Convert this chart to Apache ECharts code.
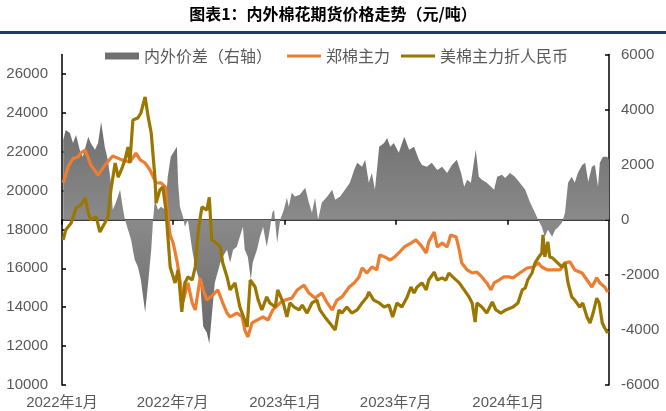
<!DOCTYPE html>
<html><head><meta charset="utf-8">
<script src="https://cdn.jsdelivr.net/npm/echarts@6/dist/echarts.min.js"></script>
<style>html,body{margin:0;padding:0;background:#fff}#c{width:666px;height:411px}</style>
</head><body><div id="c"></div>
<script>
const titleText = '图表1：内外棉花期货价格走势（元/吨）';
const seriesNames = ['内外价差（右轴）', '郑棉主力', '美棉主力折人民币'];
const xStart = '2022-01-01';
const xEnd = '2024-06-14';
const leftMin = 10000, leftMax = 27000, leftStep = 2000;
const rightMin = -6000, rightMax = 6000, rightStep = 2000;

const spreadDates = ['2022-01-03','2022-01-07','2022-01-14','2022-01-19','2022-01-24','2022-01-30','2022-02-04','2022-02-13','2022-02-17','2022-02-24',
'2022-03-01','2022-03-06','2022-03-12','2022-03-17','2022-03-22','2022-03-25','2022-03-30','2022-04-06','2022-04-11','2022-04-14',
'2022-04-19','2022-04-24','2022-04-30','2022-05-05','2022-05-10','2022-05-15','2022-05-17','2022-05-22','2022-05-27','2022-05-30',
'2022-06-02','2022-06-07','2022-06-12','2022-06-19','2022-06-23','2022-06-28','2022-07-02','2022-07-08','2022-07-10','2022-07-13',
'2022-07-18','2022-07-21','2022-07-26','2022-08-02','2022-08-07','2022-08-15','2022-08-20','2022-08-26','2022-08-30','2022-09-03',
'2022-09-08','2022-09-17','2022-09-21','2022-09-28','2022-10-03','2022-10-08','2022-10-14','2022-10-19','2022-10-24','2022-10-27',
'2022-11-01','2022-11-06','2022-11-09','2022-11-16','2022-11-21','2022-11-26','2022-12-02','2022-12-07','2022-12-11','2022-12-14',
'2022-12-19','2022-12-24','2022-12-30','2023-01-04','2023-01-07','2023-01-12','2023-01-17','2023-01-25','2023-02-03','2023-02-09',
'2023-02-14','2023-02-19','2023-02-24','2023-03-02','2023-03-11','2023-03-19','2023-03-24','2023-04-01','2023-04-09','2023-04-17',
'2023-04-24','2023-04-29','2023-05-07','2023-05-12','2023-05-18','2023-05-23','2023-05-28','2023-06-04','2023-06-12','2023-06-17',
'2023-06-22','2023-06-28','2023-07-06','2023-07-15','2023-07-23','2023-07-31','2023-08-08','2023-08-13','2023-08-21','2023-08-29',
'2023-09-07','2023-09-15','2023-09-23','2023-10-01','2023-10-09','2023-10-16','2023-10-21','2023-10-26','2023-11-01','2023-11-09',
'2023-11-14','2023-11-19','2023-11-27','2023-12-04','2023-12-09','2023-12-14','2023-12-22','2023-12-27','2024-01-04','2024-01-12',
'2024-01-20','2024-01-29','2024-02-06','2024-02-14','2024-02-19','2024-02-25','2024-03-01','2024-03-06','2024-03-13','2024-03-18',
'2024-03-22','2024-03-29','2024-04-03','2024-04-08','2024-04-14','2024-04-19','2024-04-24','2024-05-01','2024-05-06','2024-05-11',
'2024-05-17','2024-05-22','2024-05-27','2024-05-30','2024-06-04','2024-06-11','2024-06-14'];
const spreadValues = [2900,3260,3150,2790,3080,2540,2290,3010,2790,2540,
2790,3550,2650,2180,1340,360,620,1090,360,0,
-360,-730,-1450,-1700,-2180,-3010,-3370,-2280,-1090,0,
730,360,470,360,1560,2290,2430,2650,1340,470,
110,-250,0,-1090,-1700,-2290,-3880,-4100,-4500,-3510,
-2290,-1560,-1340,-1090,-1560,-1090,-980,-620,-250,-1090,
-1340,-2180,-1560,-1090,-620,-250,-980,-360,250,360,
-840,0,360,800,470,980,840,910,1160,620,
250,800,0,620,840,1090,730,840,1090,1340,
1810,2070,1920,2180,1340,1700,1090,2650,2790,2970,
2650,2790,2430,3010,2540,2650,2180,1990,1920,2070,
1810,1920,1700,1990,2180,1700,1200,1450,1340,2540,
1560,1450,1340,1200,1090,1560,1630,1520,1700,1560,
1340,1090,620,250,0,-250,-620,-360,-620,-360,
-290,-110,250,1340,1560,1340,1700,1990,2070,1380,
1920,1990,1200,2070,2290,2290,2180];

const zceDates = ['2022-01-03','2022-01-11','2022-01-19','2022-01-27','2022-02-01','2022-02-08','2022-02-17','2022-03-01','2022-03-12','2022-03-25',
'2022-04-09','2022-04-22','2022-05-02','2022-05-09','2022-05-17','2022-05-25','2022-06-04','2022-06-12','2022-06-19','2022-06-23',
'2022-06-27','2022-07-02','2022-07-08','2022-07-13','2022-07-18','2022-07-26','2022-08-02','2022-08-07','2022-08-15','2022-08-20',
'2022-08-26','2022-09-05','2022-09-13','2022-09-21','2022-09-28','2022-10-03','2022-10-14','2022-10-23','2022-10-27','2022-11-01',
'2022-11-08','2022-11-16','2022-11-26','2022-12-04','2022-12-12','2022-12-24','2023-01-01','2023-01-12','2023-01-21','2023-02-01',
'2023-02-09','2023-02-19','2023-03-02','2023-03-11','2023-03-19','2023-03-27','2023-04-04','2023-04-16','2023-04-24','2023-05-02',
'2023-05-07','2023-05-15','2023-05-23','2023-05-31','2023-06-05','2023-06-13','2023-06-22','2023-06-30','2023-07-06','2023-07-15',
'2023-07-26','2023-08-03','2023-08-11','2023-08-20','2023-08-24','2023-09-02','2023-09-07','2023-09-15','2023-09-23','2023-09-29',
'2023-10-08','2023-10-13','2023-10-17','2023-10-26','2023-11-03','2023-11-11','2023-11-19','2023-11-27','2023-12-04','2023-12-09',
'2023-12-17','2023-12-25','2024-01-02','2024-01-09','2024-01-20','2024-02-01','2024-02-11','2024-02-19','2024-02-25','2024-03-05',
'2024-03-14','2024-03-26','2024-04-03','2024-04-11','2024-04-19','2024-05-01','2024-05-09','2024-05-17','2024-05-25','2024-05-30',
'2024-06-07','2024-06-12'];
const zceValues = [20400,21230,21650,21730,21930,22090,21320,20800,21300,21780,
21580,21470,21930,21580,21420,21060,20390,20400,20190,18640,
17700,17300,16400,15400,14300,15250,14220,13860,15500,14890,
14370,14630,14890,14220,13700,13500,13700,13500,12830,12470,
13190,13340,13500,13340,13860,14220,14370,14470,14890,15140,
14730,14470,14730,14220,13860,14370,14530,15040,15250,15560,
16020,15760,16070,15920,16690,16590,16430,16600,16790,17100,
17300,17460,17200,16790,17360,17870,17100,17300,17100,17720,
17610,16950,16280,15920,15760,15810,15560,15250,14890,15250,
15400,15560,15560,15510,15760,16020,16070,16280,16070,15920,
15920,15920,16280,16330,15920,15760,15400,15040,15510,15250,
15040,14780];

const iceDates = ['2022-01-03','2022-01-07','2022-01-16','2022-01-24','2022-02-01','2022-02-08','2022-02-13','2022-02-17','2022-02-26','2022-03-04',
'2022-03-12','2022-03-17','2022-03-22','2022-03-29','2022-04-03','2022-04-08','2022-04-14','2022-04-19','2022-04-22','2022-04-27',
'2022-05-05','2022-05-10','2022-05-17','2022-05-22','2022-05-27','2022-06-02','2022-06-04','2022-06-10','2022-06-15','2022-06-20',
'2022-06-27','2022-06-30','2022-07-05','2022-07-10','2022-07-16','2022-07-21','2022-07-26','2022-08-02','2022-08-07','2022-08-12',
'2022-08-18','2022-08-26','2022-08-30','2022-09-03','2022-09-08','2022-09-17','2022-09-21','2022-09-28','2022-10-03','2022-10-11',
'2022-10-19','2022-10-27','2022-10-31','2022-11-05','2022-11-13','2022-11-18','2022-11-24','2022-12-02','2022-12-07','2022-12-16',
'2022-12-20','2022-12-29','2023-01-04','2023-01-09','2023-01-16','2023-01-24','2023-01-29','2023-02-06','2023-02-14','2023-02-22',
'2023-02-27','2023-03-07','2023-03-15','2023-03-24','2023-03-30','2023-04-04','2023-04-12','2023-04-20','2023-04-29','2023-05-07',
'2023-05-15','2023-05-18','2023-05-26','2023-06-04','2023-06-12','2023-06-20','2023-06-26','2023-07-03','2023-07-11','2023-07-19',
'2023-07-26','2023-07-31','2023-08-05','2023-08-13','2023-08-20','2023-08-24','2023-09-02','2023-09-07','2023-09-15','2023-09-21',
'2023-09-26','2023-10-04','2023-10-13','2023-10-21','2023-10-29','2023-11-03','2023-11-08','2023-11-11','2023-11-19','2023-11-27',
'2023-12-06','2023-12-12','2023-12-20','2023-12-28','2024-01-09','2024-01-17','2024-01-24','2024-01-29','2024-02-02','2024-02-09',
'2024-02-14','2024-02-19','2024-02-25','2024-02-27','2024-03-01','2024-03-06','2024-03-09','2024-03-14','2024-03-22','2024-03-29',
'2024-04-03','2024-04-08','2024-04-14','2024-04-19','2024-04-27','2024-05-02','2024-05-09','2024-05-14','2024-05-19','2024-05-25',
'2024-05-29','2024-06-03','2024-06-07','2024-06-12'];
const iceValues = [17460,17970,18330,19110,19260,19620,18850,18490,18640,17870,
18330,18640,20030,21420,20690,21060,21580,22240,21420,23630,
23730,23990,24820,23790,22960,20690,19360,20030,20190,19000,
16070,15760,15250,15920,13760,15250,15560,15400,16070,17970,
19160,19000,19650,17460,17360,17100,16280,15560,14890,15250,
14010,13340,12980,15400,15040,14370,13860,14530,14220,14010,
14890,14220,13500,14220,14010,13860,14110,13700,14220,14370,
13860,13500,13190,12830,13860,13700,14010,13700,13860,14220,
14530,14780,14370,14220,14010,14110,13500,14220,14010,14470,
15040,14730,15040,15250,14890,15400,15810,15400,15510,15400,
15760,15510,15250,14890,14530,14220,13240,14220,14010,13700,
14270,13860,13700,13860,14010,14220,14890,14990,15400,15760,
16280,16530,16790,17720,16590,17360,16590,16530,16280,16070,
16280,15250,14530,14370,14010,14220,13500,13190,13700,14470,
14220,13190,12930,12670];

// full calendar-day category axis
function pad(n){return n<10?'0'+n:''+n;}
const categories = [];
(function(){
  let d = new Date(xStart+'T00:00:00Z'); const end = new Date(xEnd+'T00:00:00Z');
  while (d <= end) { categories.push(d.getUTCFullYear()+'-'+pad(d.getUTCMonth()+1)+'-'+pad(d.getUTCDate())); d = new Date(d.getTime()+86400000); }
})();
const isTick = (idx, v) => /-(01|07)-01$/.test(v);
const zip = (a,b) => a.map((x,i)=>[x,b[i]]);

const FONT = "'Liberation Sans', 'Noto Sans CJK SC', sans-serif";
const CJK = "'Noto Sans CJK SC', sans-serif";
const labelColor = '#595959';
const chart = echarts.init(document.getElementById('c'), null, {renderer:'canvas'});
const lineIcon = 'path://M0,0 M34,7 M0,2 L34,2 L34,5 L0,5 Z';
const legendBase = { top: 48, itemWidth: 34, itemHeight: 7, padding: 0,
  itemStyle: { borderWidth: 0 }, textStyle: { fontSize: 16, color: labelColor, fontFamily: CJK } };

chart.setOption({
  animation: false,
  backgroundColor: '#fff',
  title: { text: titleText, left: 'center', top: 1,
    textStyle: { fontSize: 16, fontWeight: 'bold', color: '#000', fontFamily: CJK } },
  graphic: [{ type: 'rect', shape: { x: 0, y: 31, width: 666, height: 3 }, style: { fill: '#203864' } }],
  legend: [
    Object.assign({}, legendBase, { left: 105, data: [{ name: seriesNames[0], icon: 'rect', itemStyle: { color: '#707070' } }] }),
    Object.assign({}, legendBase, { left: 287, data: [{ name: seriesNames[1], icon: lineIcon, itemStyle: { color: '#ED7D31' } }] }),
    Object.assign({}, legendBase, { left: 401, data: [{ name: seriesNames[2], icon: lineIcon, itemStyle: { color: '#9B7700' } }] })
  ],
  grid: { left: 62, right: 57, top: 54.5, bottom: 26, containLabel: false },
  xAxis: {
    type: 'category', data: categories, boundaryGap: false,
    axisLine: { lineStyle: { color: '#000', width: 1.5 } },
    axisTick: { interval: isTick, length: 5, lineStyle: { color: '#000', width: 1.5 } },
    axisLabel: { interval: isTick, margin: 10, fontSize: 15, color: labelColor, fontFamily: FONT,
      formatter: v => { const p = v.split('-'); return p[0] + '年' + (+p[1]) + '月'; } },
    splitLine: { show: false }
  },
  yAxis: [
    { type: 'value', min: leftMin, max: leftMax, interval: leftStep, position: 'left',
      axisLine: { show: true, lineStyle: { color: '#000', width: 1.5 } },
      axisTick: { show: true, inside: true, length: 4, lineStyle: { color: '#000', width: 1.5 } },
      axisLabel: { showMaxLabel: false, margin: 14, fontSize: 15, color: labelColor, fontFamily: FONT, formatter: v => String(v) },
      splitLine: { show: false } },
    { type: 'value', min: rightMin, max: rightMax, interval: rightStep, position: 'right',
      axisLine: { show: true, lineStyle: { color: '#000', width: 1.5 } },
      axisTick: { show: true, inside: true, length: 4, lineStyle: { color: '#000', width: 1.5 } },
      axisLabel: { margin: 12, fontSize: 15, color: labelColor, fontFamily: FONT, formatter: v => String(v) },
      splitLine: { show: false } }
  ],
  series: [
    { name: seriesNames[0], type: 'line', yAxisIndex: 1, data: zip(spreadDates, spreadValues),
      symbol: 'none', color: '#707070', lineStyle: { width: 0 },
      areaStyle: { opacity: 1, origin: 0, color: new echarts.graphic.LinearGradient(0, 54, 0, 386, [
        { offset: 0, color: '#5c5c5c' }, { offset: 0.5, color: '#8a8a8a' }, { offset: 1, color: '#5c5c5c' }], true) },
      z: 1 },
    { name: seriesNames[1], type: 'line', yAxisIndex: 0, data: zip(zceDates, zceValues),
      symbol: 'none', color: '#ED7D31', lineStyle: { width: 3.2, color: '#ED7D31' }, z: 2 },
    { name: seriesNames[2], type: 'line', yAxisIndex: 0, data: zip(iceDates, iceValues),
      symbol: 'none', color: '#9B7700', lineStyle: { width: 3.2, color: '#9B7700' }, z: 3 }
  ]
});
</script></body></html>
